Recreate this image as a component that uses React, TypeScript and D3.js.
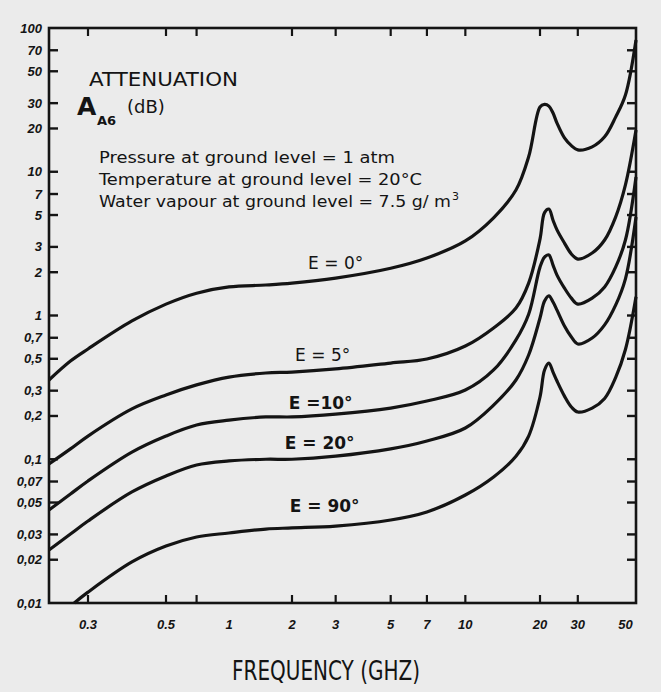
import React, { useEffect, useRef } from 'react';
import * as d3 from 'd3';

// frequency grid (GHz) for the E = 0, 5, 10, 20 curves
const freqGHz = [0.2, 0.25, 0.3, 0.4, 0.5, 0.7, 1, 1.5, 2, 3, 5, 7, 10, 13, 16, 18, 20, 21, 22, 23, 24, 26, 28, 30, 35, 40, 45, 50, 56];
// E = 90 only starts where it leaves the 0.01 dB floor
const freqE90 = [0.26, 0.3, 0.4, 0.5, 0.7, 1, 1.5, 2, 3, 5, 7, 10, 13, 16, 18, 20, 21, 22, 23, 24, 26, 28, 30, 35, 40, 45, 50, 56];

// attenuation in dB
const attE0 = [0.356, 0.482, 0.585, 0.916, 1.2, 1.43, 1.58, 1.63, 1.68, 1.82, 2.13, 2.51, 3.3, 4.78, 7.46, 12.7, 28.2, 29.4, 28.6, 25.6, 21.8, 17.2, 15.2, 14.2, 14.9, 17.5, 24.0, 34.2, 82.6];
const attE5 = [0.0927, 0.118, 0.145, 0.224, 0.28, 0.329, 0.373, 0.398, 0.404, 0.425, 0.467, 0.498, 0.613, 0.819, 1.127, 1.68, 3.4, 5.2, 5.5, 4.6, 3.94, 3.19, 2.68, 2.47, 2.72, 3.35, 4.84, 8.1, 19.5];
const attE10 = [0.0444, 0.0573, 0.0706, 0.112, 0.145, 0.173, 0.187, 0.197, 0.197, 0.206, 0.227, 0.254, 0.303, 0.418, 0.676, 1.02, 2.17, 2.55, 2.64, 2.24, 1.91, 1.55, 1.32, 1.2, 1.32, 1.58, 2.17, 3.35, 9.2];
const attE20 = [0.0234, 0.0302, 0.0372, 0.0592, 0.0765, 0.0912, 0.0973, 0.1, 0.1, 0.105, 0.118, 0.134, 0.165, 0.238, 0.356, 0.531, 0.96, 1.26, 1.37, 1.24, 1.09, 0.845, 0.708, 0.634, 0.697, 0.86, 1.18, 1.8, 4.84];
const attE90 = [0.01, 0.0119, 0.0193, 0.0249, 0.0288, 0.0307, 0.0327, 0.0333, 0.0343, 0.0378, 0.043, 0.0564, 0.0753, 0.105, 0.145, 0.271, 0.418, 0.467, 0.404, 0.35, 0.275, 0.231, 0.213, 0.227, 0.265, 0.37, 0.58, 1.35];

const curveNames = ['E = 0°', 'E = 5°', 'E =10°', 'E = 20°', 'E = 90°'];

const yTickValues = [100, 70, 50, 30, 20, 10, 7, 5, 3, 2, 1, 0.7, 0.5, 0.3, 0.2, 0.1, 0.07, 0.05, 0.03, 0.02, 0.01];
const xTickValues = [0.3, 0.5, 0.7, 2, 3, 5, 7, 10, 20, 30];
const xLabelValues = [0.3, 0.5, 1, 2, 3, 5, 7, 10, 20, 30, 50];

const infoLines = [
  'Pressure at ground level = 1 atm',
  'Temperature at ground level = 20°C',
  'Water vapour at ground level = 7.5 g/ m',
];

function App() {
  const ref = useRef(null);

  useEffect(() => {
    const svg = d3.select(ref.current);
    svg.selectAll('*').remove();

    const ink = '#141414';
    const left = 49, right = 636, top = 28, bottom = 603;

    // the scanned axis is not a clean log scale between 0.3 and 2 GHz,
    // so the x scale is piecewise log
    const x = d3.scaleLog()
      .domain([0.2, 0.3, 0.5, 2, 20, 56])
      .range([left, 88, 166, 292, 540, right]);
    const y = d3.scaleLog().domain([0.01, 100]).range([bottom, top]);

    svg.append('rect')
      .attr('width', 661).attr('height', 692)
      .attr('fill', '#ebebeb');

    // frame
    svg.append('rect')
      .attr('x', left).attr('y', top)
      .attr('width', right - left).attr('height', bottom - top)
      .attr('fill', 'none').attr('stroke', ink).attr('stroke-width', 2.6);

    // y ticks (both sides, pointing in)
    const yIn = yTickValues.filter(v => v > 0.01 && v < 100);
    svg.append('g').selectAll('line')
      .data(yIn).enter().append('line')
      .attr('x1', left).attr('x2', left + 9)
      .attr('y1', d => y(d)).attr('y2', d => y(d))
      .attr('stroke', ink).attr('stroke-width', 2.4);
    svg.append('g').selectAll('line')
      .data(yIn).enter().append('line')
      .attr('x1', right - 9).attr('x2', right)
      .attr('y1', d => y(d)).attr('y2', d => y(d))
      .attr('stroke', ink).attr('stroke-width', 2.4);

    // x ticks (bottom and top)
    svg.append('g').selectAll('line')
      .data(xTickValues).enter().append('line')
      .attr('x1', d => x(d)).attr('x2', d => x(d))
      .attr('y1', bottom).attr('y2', bottom - 8)
      .attr('stroke', ink).attr('stroke-width', 2.2);
    svg.append('g').selectAll('line')
      .data(xTickValues).enter().append('line')
      .attr('x1', d => x(d)).attr('x2', d => x(d))
      .attr('y1', top).attr('y2', top + 8)
      .attr('stroke', ink).attr('stroke-width', 2.2);

    const tickFont = 'Liberation Sans, DejaVu Sans, sans-serif';

    svg.append('g').selectAll('text')
      .data(yTickValues).enter().append('text')
      .attr('x', left - 7)
      .attr('y', d => y(d) + 4.5)
      .attr('text-anchor', 'end')
      .attr('font-family', tickFont)
      .attr('font-size', 13)
      .attr('font-weight', 'bold')
      .attr('font-style', 'italic')
      .attr('fill', ink)
      .text(d => d >= 1 ? String(d) : String(d).replace('.', ','));

    svg.append('g').selectAll('text')
      .data(xLabelValues).enter().append('text')
      .attr('x', d => x(d))
      .attr('y', bottom + 26)
      .attr('text-anchor', 'middle')
      .attr('font-family', tickFont)
      .attr('font-size', 13)
      .attr('font-weight', 'bold')
      .attr('font-style', 'italic')
      .attr('fill', ink)
      .text(d => String(d));

    // curves
    const series = [
      { f: freqGHz, v: attE0 },
      { f: freqGHz, v: attE5 },
      { f: freqGHz, v: attE10 },
      { f: freqGHz, v: attE20 },
      { f: freqE90, v: attE90 },
    ];
    const line = d3.line()
      .x(d => x(d[0]))
      .y(d => y(d[1]))
      .curve(d3.curveCatmullRom.alpha(0.5));

    svg.append('g').selectAll('path')
      .data(series).enter().append('path')
      .attr('d', s => line(s.f.map((f, i) => [f, s.v[i]])))
      .attr('fill', 'none')
      .attr('stroke', ink)
      .attr('stroke-width', 3.2)
      .attr('stroke-linejoin', 'round');

    // curve labels, placed just above each curve near 3 GHz
    const labelLift = [9, 8, 5, 7, 14];
    const labelShift = [0, -13, -15, -16, -11];
    const labelWeight = ['normal', 'normal', 'bold', 'bold', '600'];
    svg.append('g').selectAll('text')
      .data(series).enter().append('text')
      .attr('x', (s, i) => x(3) + labelShift[i])
      .attr('y', (s, i) => y(s.v[s.f.indexOf(3)]) - labelLift[i])
      .attr('text-anchor', 'middle')
      .attr('font-family', 'DejaVu Sans, sans-serif')
      .attr('font-size', 17)
      .attr('font-weight', (s, i) => labelWeight[i])
      .attr('fill', ink)
      .text((s, i) => curveNames[i]);

    // title block
    const sans = 'DejaVu Sans, sans-serif';
    svg.append('text')
      .attr('x', 89).attr('y', 86)
      .attr('font-family', sans).attr('font-size', 19)
      .attr('textLength', 149).attr('lengthAdjust', 'spacingAndGlyphs')
      .attr('fill', ink)
      .text('ATTENUATION');
    svg.append('text')
      .attr('x', 77).attr('y', 115)
      .attr('font-family', sans).attr('font-size', 25).attr('font-weight', 'bold')
      .attr('fill', ink)
      .text('A');
    svg.append('text')
      .attr('x', 97).attr('y', 125)
      .attr('font-family', sans).attr('font-size', 13).attr('font-weight', 'bold')
      .attr('fill', ink)
      .text('A6');
    svg.append('text')
      .attr('x', 127).attr('y', 113)
      .attr('font-family', sans).attr('font-size', 18)
      .attr('fill', ink)
      .text('(dB)');

    const infoWidth = [296, 323, 352];
    const info = svg.append('g');
    infoLines.forEach((t, i) => {
      info.append('text')
        .attr('x', 99).attr('y', 163 + i * 22)
        .attr('font-family', sans).attr('font-size', 16)
        .attr('textLength', infoWidth[i]).attr('lengthAdjust', 'spacingAndGlyphs')
        .attr('fill', ink)
        .text(t);
    });
    info.append('text')
      .attr('x', 452).attr('y', 200)
      .attr('font-family', sans).attr('font-size', 11)
      .attr('fill', ink)
      .text('3');

    svg.append('text')
      .attr('x', 232).attr('y', 680)
      .attr('font-family', 'DejaVu Sans Condensed, DejaVu Sans, sans-serif')
      .attr('font-size', 27)
      .attr('textLength', 188).attr('lengthAdjust', 'spacingAndGlyphs')
      .attr('fill', ink)
      .text('FREQUENCY (GHZ)');
  }, []);

  return <svg ref={ref} width="661" height="692"
    style={{ position: 'absolute', left: 0, top: 0 }}>
  </svg>;
}

export default App;
